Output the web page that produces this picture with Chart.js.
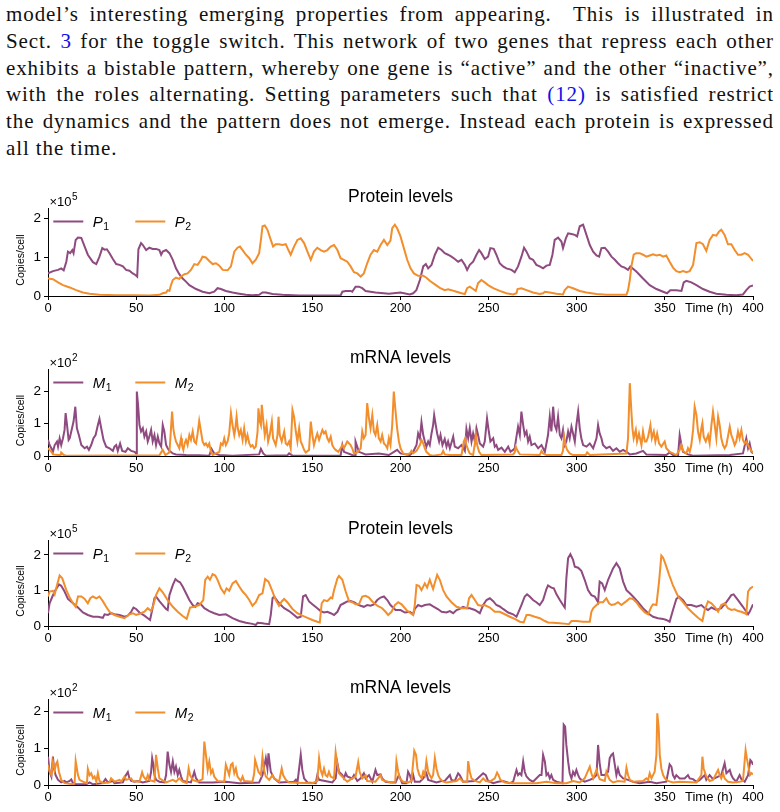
<!DOCTYPE html>
<html>
<head>
<meta charset="utf-8">
<script src="https://cdn.jsdelivr.net/npm/chart.js@4.4.1/dist/chart.umd.min.js"></script>
<style>
  html, body { margin: 0; padding: 0; background: #fff; }
  body { width: 780px; height: 812px; position: relative; overflow: hidden; }
  #para { position: absolute; left: 6px; top: 1px; width: 768px; font-family: "Liberation Serif", "DejaVu Serif", serif; font-size: 21px; letter-spacing: 0.9px; line-height: 26.8px; color: #111; }
  #para div { text-align: justify; text-align-last: justify; white-space: nowrap; }
  #para div.last { text-align-last: left; }
  #para .ref { color: #1010e8; }
  .panel { position: absolute; left: 0; }
</style>
</head>
<body>
<div id="para">
  <div>model’s interesting emerging properties from appearing.&nbsp; This is illustrated in</div>
  <div>Sect. <span class="ref">3</span> for the toggle switch. This network of two genes that repress each other</div>
  <div>exhibits a bistable pattern, whereby one gene is “active” and the other “inactive”,</div>
  <div>with the roles alternating. Setting parameters such that <span class="ref">(12)</span> is satisfied restrict</div>
  <div>the dynamics and the pattern does not emerge. Instead each protein is expressed</div>
  <div class="last">all the time.</div>
</div>
<div id="panels"></div>
<script>
// ---- DATA (time in h, values in units of the axis multiplier) ----
const xTickValues = [0, 50, 100, 150, 200, 250, 300, 350, 400];
const yTickValues = [0, 1, 2];
const timeLabel = "Time (h)";

// Panel 1: protein levels (x10^5), bistable run
const protA_P1 = [[0,0.58],[2.8,0.64],[5.7,0.67],[7.5,0.71],[8.9,0.66],[10.4,0.88],[11.3,1.14],[12.6,1.10],[13.8,1.18],[14.5,1.10],[15.7,1.44],[17.0,1.50],[18.9,1.49],[20.8,1.27],[22.6,1.06],[25.5,0.87],[27.4,0.82],[29.2,1.01],[30.8,1.23],[32.1,1.19],[33.4,1.20],[34.9,1.10],[36.8,0.95],[38.7,0.82],[40.6,0.80],[42.5,0.76],[44.3,0.67],[46.2,0.65],[48.1,0.58],[49.6,0.54],[50.6,0.50],[51.3,1.20],[52.8,1.36],[53.8,1.31],[55.7,1.18],[57.5,1.24],[59.4,1.21],[61.3,1.21],[63.2,1.18],[64.2,1.06],[65.1,1.14],[67.0,1.18],[68.9,1.10],[70.8,0.93],[72.6,0.71],[74.5,0.56],[76.4,0.45],[78.3,0.37],[80.2,0.28],[84.0,0.18],[87.7,0.11],[91.5,0.07],[94.3,0.11],[96.2,0.20],[98.1,0.18],[100.9,0.13],[104.7,0.09],[108.5,0.06],[112.3,0.03],[116.0,0.02],[119.8,0.03],[121.7,0.09],[123.6,0.09],[127.4,0.05],[133.0,0.03],[142.5,0.01],[151.9,0.01],[161.3,0.01],[166.0,0.01],[167.0,0.11],[168.9,0.13],[171.7,0.13],[172.6,0.11],[174.5,0.24],[176.4,0.24],[178.3,0.20],[180.2,0.13],[185.8,0.09],[193.4,0.06],[200,0.09],[205.3,0.04],[207.2,0.07],[209,0.15],[211,0.41],[212.9,0.76],[214.4,0.82],[215.7,0.71],[217.6,0.80],[219.5,1.06],[221.4,1.24],[223.3,1.18],[225.1,1.10],[227,1.06],[228.9,1.01],[230.8,0.95],[232.7,0.88],[234.6,0.93],[236.5,0.80],[237.8,0.67],[239.3,0.80],[241.2,0.88],[243.1,1.06],[244.6,1.18],[245.9,1.10],[247.8,0.95],[249.7,1.01],[251,1.23],[252.9,1.21],[254.4,1.06],[256.3,0.84],[258.2,0.76],[260.1,0.71],[263,0.67],[264.8,0.61],[266.7,0.76],[268.6,1.01],[270.1,1.24],[271.5,1.14],[273.3,0.97],[275.2,0.93],[277.1,0.80],[279,0.76],[280.9,0.71],[282.8,0.78],[284.7,0.80],[286.2,1.06],[287.5,1.44],[289.4,1.50],[291.3,1.40],[292.2,1.23],[293.8,1.48],[295.1,1.61],[297,1.59],[298.9,1.57],[300.2,1.53],[301.7,1.79],[303.6,1.83],[305.5,1.57],[307.4,1.31],[309.3,1.14],[311.2,1.04],[312.7,1.01],[314,1.23],[315.9,1.24],[317.8,1.14],[319.7,1.01],[321.6,0.93],[323.4,0.84],[325.3,0.76],[327.2,0.73],[329.1,0.67],[330.4,0.76],[333.8,0.63],[337.6,0.45],[341.4,0.28],[345.2,0.18],[349,0.11],[351.2,0.07],[353.1,0.15],[356.5,0.15],[359.4,0.13],[360.7,0.35],[362.2,0.39],[365,0.35],[367.9,0.28],[371.6,0.18],[375.4,0.11],[379.2,0.06],[384.9,0.03],[390.5,0.02],[394.3,0.04],[396.2,0.15],[398.1,0.24],[400,0.27]];
const protA_P2 = [[0,0.45],[2.8,0.43],[5.7,0.35],[8.5,0.28],[12.3,0.22],[16.0,0.15],[19.8,0.09],[23.6,0.06],[29.2,0.03],[38.7,0.02],[48.1,0.02],[57.5,0.01],[63.2,0.03],[65.1,0.07],[67.0,0.09],[67.9,0.15],[68.9,0.13],[69.8,0.28],[70.8,0.41],[72.6,0.47],[74.5,0.44],[75.5,0.50],[77.4,0.56],[79.2,0.58],[81.1,0.67],[83.0,0.82],[84.9,0.80],[86.8,0.93],[87.7,1.01],[89.6,0.99],[91.5,0.90],[93.4,0.82],[95.3,0.84],[97.2,0.78],[99.1,0.67],[101.9,0.66],[103.8,0.76],[105.7,1.14],[107.5,1.24],[108.9,1.27],[110.4,1.18],[112.3,1.06],[114.2,0.97],[116.0,0.84],[117.9,0.93],[119.8,1.10],[120.8,1.44],[121.7,1.79],[123.0,1.81],[124.5,1.70],[126.4,1.44],[127.7,1.27],[129.2,1.33],[131.1,1.33],[133.0,1.31],[134.9,1.33],[136.4,1.18],[137.7,1.06],[139.6,1.27],[141.5,1.44],[143.4,1.48],[145.3,1.36],[147.2,1.14],[149.1,0.93],[150.9,1.14],[152.8,1.24],[154.7,1.18],[156.6,1.14],[158.5,1.18],[160.4,1.27],[162.3,1.31],[164.2,1.18],[166.0,0.97],[167.9,0.93],[169.8,0.88],[171.7,0.76],[173.6,0.61],[175.5,0.58],[177.4,0.50],[179.2,0.58],[181.1,0.84],[183.0,1.06],[184.9,1.18],[186.8,1.14],[188.7,1.31],[190.6,1.44],[192.5,1.31],[194.3,1.42],[195.3,1.74],[196.8,1.83],[198.1,1.74],[200,1.53],[201.9,1.23],[203.8,0.93],[205.7,0.71],[207.6,0.58],[210,0.52],[212.9,0.52],[214.7,0.47],[216.6,0.39],[219.5,0.30],[222.3,0.21],[225.1,0.15],[227,0.17],[228.9,0.15],[231.8,0.11],[234.6,0.07],[236.5,0.05],[237.8,0.20],[239.3,0.24],[241.2,0.18],[242.7,0.13],[244,0.33],[245.9,0.41],[247.8,0.35],[249.7,0.28],[252.6,0.20],[256.3,0.13],[260.1,0.07],[263.9,0.04],[265.8,0.07],[266.4,0.18],[268.6,0.20],[271.5,0.15],[275.2,0.09],[279,0.05],[280.9,0.07],[281.9,0.11],[284.7,0.09],[288.5,0.06],[292.2,0.04],[293.2,0.15],[295.1,0.24],[297.9,0.20],[301.7,0.13],[305.5,0.09],[311.2,0.05],[316.8,0.03],[322.5,0.03],[328.2,0.03],[329.1,0.15],[330.1,0.41],[331,0.76],[332.3,1.06],[333.8,1.10],[335.7,1.10],[337.6,1.06],[339.5,1.01],[341.4,1.04],[343.3,1.07],[345.2,1.04],[347.1,1.06],[349,1.01],[350.8,1.04],[352.7,0.88],[354.6,0.73],[356.5,0.64],[358.4,0.61],[360.3,0.64],[362.2,0.61],[364.1,0.64],[366,0.80],[367.9,1.36],[369.8,1.38],[371.6,1.33],[373.5,1.16],[375.4,1.44],[377.3,1.57],[379.2,1.55],[380.7,1.65],[382,1.70],[383.9,1.57],[385.8,1.33],[387.7,1.33],[389.6,1.18],[391.5,1.06],[393.4,1.06],[395.3,1.10],[397.2,1.06],[399.1,0.95],[400,0.90]];

// Panel 2: mRNA levels (x10^2), bistable run
const mrnaA_M1 = [[0,0.50],[0.9,0.34],[1.9,0.24],[2.8,0.13],[3.8,0.34],[5.1,0.45],[5.7,0.29],[6.6,0.55],[7.5,0.34],[8.5,0.55],[9.4,0.81],[10.0,1.33],[10.8,0.96],[11.7,0.50],[12.3,0.55],[13.2,0.76],[14.5,1.07],[15.5,1.53],[16.4,0.86],[17.5,0.65],[18.9,0.34],[20.8,0.24],[22.1,0.29],[23.2,0.19],[24.5,0.34],[25.8,0.55],[27.0,0.65],[28.3,0.96],[29.2,1.15],[30.2,0.86],[31.5,0.50],[33.0,0.29],[34.9,0.24],[36.8,0.16],[37.7,0.29],[38.7,0.34],[39.6,0.16],[40.9,0.39],[42.1,0.16],[44.0,0.13],[45.3,0.24],[47.2,0.16],[49.1,0.13],[50.0,0.08],[50.4,2.0],[51.1,1.59],[51.9,0.96],[52.8,0.76],[53.8,0.86],[54.7,0.60],[55.7,0.76],[56.6,0.45],[57.5,0.60],[58.5,0.81],[59.4,0.45],[60.4,0.65],[61.3,0.34],[62.3,0.60],[63.2,0.39],[64.2,0.29],[65.1,0.96],[66.0,0.76],[67.0,0.34],[67.9,0.24],[68.9,0.16],[70.8,0.08],[72.6,0.05],[78.3,0.03],[85.8,0.02],[91.5,0.01],[92.8,0.22],[94.3,0.08],[97.2,0.03],[104.7,0.01],[119.8,0.05],[120.8,0.22],[122.1,0.08],[123.6,0.01],[135.8,0.02],[136.8,0.08],[138.7,0.01],[166.0,0.01],[167.0,0.34],[167.9,0.13],[172.6,0.03],[174.2,0.01],[174.5,0.45],[176.4,0.13],[180.2,0.05],[187.7,0.08],[193.4,0.03],[198.1,0.19],[200,0.08],[205.3,0.03],[207.2,0.13],[209.1,0.34],[210,0.70],[211,0.55],[211.9,1.05],[212.9,0.65],[213.8,0.45],[214.7,0.29],[215.7,0.45],[216.6,0.34],[217.6,0.70],[218.5,0.96],[219.1,1.27],[220,0.96],[220.8,0.70],[221.9,0.45],[222.7,0.65],[223.8,0.34],[225.1,0.53],[226.1,0.29],[227,0.45],[228,0.24],[229.9,0.60],[230.8,0.29],[232.7,0.24],[234.6,0.34],[236.5,0.16],[237.4,0.84],[238.4,0.55],[239.3,0.86],[240.3,0.45],[241.2,0.70],[242.2,0.45],[243.1,0.86],[244,0.65],[245,0.39],[246.9,0.29],[247.8,0.45],[249.1,1.17],[250.1,0.76],[251,0.45],[252.6,0.55],[253.5,0.29],[254.4,0.34],[255.4,0.19],[257.3,0.26],[259.2,0.13],[261.1,0.29],[262.4,0.13],[263.9,0.19],[264.8,0.24],[265.8,0.60],[266.7,0.91],[267.7,0.65],[268.6,1.38],[269.6,0.96],[270.5,0.65],[271.5,0.76],[272.4,0.45],[273.3,0.60],[274.3,0.34],[276.2,0.39],[278.1,0.24],[280,0.34],[281.9,0.13],[283.7,0.65],[284.7,1.22],[285.6,0.76],[286.6,1.53],[287.5,0.96],[288.5,0.81],[289.4,1.22],[290.4,0.65],[291.3,0.55],[292.2,0.81],[293.2,0.34],[294.1,0.45],[295.1,0.76],[296,0.55],[297,0.91],[297.9,0.70],[298.9,0.45],[299.8,0.96],[300.8,1.38],[301.7,0.86],[302.6,0.55],[303.6,0.34],[305.5,0.29],[307.4,0.39],[309.3,0.24],[311.2,0.55],[312.1,0.96],[313,0.70],[314,0.55],[314.9,0.34],[316.8,0.24],[318.7,0.29],[320.6,0.16],[322.5,0.24],[324.4,0.13],[326.3,0.19],[328.2,0.13],[330.1,0.05],[333.8,0.08],[337.6,0.16],[339.5,0.05],[350.8,0.03],[352.7,0.11],[354.6,0.03],[357.5,0.03],[358.4,0.65],[359.4,0.34],[360.3,0.13],[363.1,0.05],[366,0.01],[386.8,0.03],[394.3,0.08],[396.2,0.55],[397.2,0.24],[398.1,0.39],[399.1,0.13],[400,0.08]];
const mrnaA_M2 = [[0,0.24],[0.9,0.19],[1.9,0.13],[2.8,0.05],[5.7,0.03],[7.2,0.03],[7.5,0.11],[8.9,0.03],[10.4,0.01],[63.2,0.02],[65.1,0.19],[66.6,0.03],[68.9,0.11],[69.8,0.86],[70.4,1.38],[71.1,0.86],[71.7,0.65],[72.6,0.45],[73.6,0.34],[74.5,0.24],[75.5,0.55],[76,0.34],[76.8,0.19],[77.5,0.39],[78.3,0.50],[79.2,0.34],[80.2,0.65],[81.1,0.50],[82.1,0.76],[83,0.45],[84,0.39],[84.9,0.70],[85.8,1.09],[86.8,0.76],[87.7,0.45],[88.7,0.34],[89.6,0.39],[90.6,0.29],[91.5,0.39],[92.5,0.13],[93.4,0.03],[95.3,0.08],[97.2,0.13],[98.1,0.39],[99.1,0.34],[100,0.55],[100.9,0.34],[101.9,0.45],[102.8,0.70],[103.8,1.33],[104.7,0.96],[105.7,0.65],[106.2,0.81],[107,1.22],[107.7,0.86],[108.5,0.65],[109.4,0.81],[110.4,0.50],[111.3,0.86],[112.3,0.45],[113.2,0.65],[114.2,0.39],[115.1,0.29],[116,0.34],[117,0.24],[117.9,0.29],[118.9,0.76],[119.4,1.48],[120.2,1.07],[120.8,0.96],[121.3,1.59],[122.1,1.12],[123,0.65],[124,0.96],[124.9,0.45],[125.8,0.65],[127,1.07],[127.7,0.55],[129.2,0.34],[130.2,0.65],[130.8,1.22],[131.5,0.65],[132.6,0.45],[134,0.76],[134.9,0.39],[135.8,0.34],[136.8,0.45],[137.7,0.24],[138.7,1.43],[139.6,1.22],[140.6,0.76],[141.5,0.45],[142.5,0.86],[143.4,0.45],[144.3,0.34],[145.3,0.19],[146.2,0.11],[148.1,0.19],[149.1,1.07],[150,0.65],[150.9,0.34],[151.9,0.55],[152.8,0.70],[153.8,0.50],[154.7,0.65],[155.7,0.81],[156.6,0.70],[157.5,0.76],[158.5,0.55],[159.4,0.45],[160.4,0.60],[161.3,0.34],[162.3,0.24],[163.2,0.19],[164.7,0.13],[166,0.24],[167,0.34],[167.9,0.24],[169.8,0.45],[171.7,0.34],[172.6,0.24],[173.6,0.08],[175.5,0.11],[177.4,0.24],[178.3,0.76],[179.2,0.55],[180.2,0.65],[181.1,1.64],[182.1,1.17],[183,0.86],[184,1.27],[184.9,0.76],[185.8,0.65],[186.8,0.96],[187.7,0.55],[188.7,0.45],[189.6,0.65],[190.6,0.39],[191.5,0.34],[192.5,0.24],[193.4,0.55],[194.3,0.34],[195.3,0.96],[196.2,2.0],[197.2,1.38],[198.1,0.86],[199.1,0.45],[200,0.24],[201.5,0.08],[203.4,0.05],[205.3,0.08],[206.2,0.16],[207.2,0.08],[209.1,0.16],[211,0.34],[211.9,0.50],[212.9,0.39],[213.8,0.24],[214.7,0.13],[216.6,0.03],[218.5,0.01],[223.3,0.05],[224.2,0.16],[225.1,0.05],[228,0.03],[234.6,0.03],[235.9,0.45],[236.7,0.55],[237.4,0.34],[238.4,0.19],[239.3,0.08],[241.2,0.03],[242.2,0.39],[242.7,0.67],[243.5,0.34],[244.6,0.13],[245.9,0.03],[263.9,0.05],[264.8,0.11],[265.4,0.29],[266.4,0.16],[267.7,0.05],[279,0.03],[280,0.16],[280.9,0.08],[282.8,0.03],[291.3,0.03],[292.2,0.16],[292.8,0.60],[293.6,0.34],[294.5,0.19],[296,0.08],[297.9,0.03],[305.1,0.03],[305.9,0.11],[307.4,0.03],[328.2,0.08],[329.1,0.55],[330.1,2.26],[331,1.38],[331.6,0.86],[332.3,0.55],[333.5,0.81],[334.2,0.45],[335.3,0.70],[336.7,0.34],[337.6,0.76],[338.6,0.45],[339.5,0.45],[340.5,0.60],[341.8,0.96],[342.6,0.55],[343.7,0.76],[344.6,0.45],[345.6,0.70],[346.7,0.39],[348,0.29],[349.9,0.45],[350.8,0.24],[352.7,0.13],[354.6,0.08],[356.5,0.03],[358.4,0.19],[359.4,0.34],[360.3,0.16],[362.2,0.08],[363.1,0.24],[364.1,0.13],[365,0.34],[366,0.81],[366.9,1.53],[367.9,1.27],[368.8,0.76],[369.8,0.50],[370.7,0.86],[371.3,1.02],[372,0.60],[373.2,0.45],[374.5,0.65],[375.4,0.39],[376.4,0.96],[377.3,1.38],[378.3,0.96],[379.2,0.55],[380.2,1.22],[381.1,0.96],[382,0.55],[383,0.34],[383.9,0.24],[384.9,0.34],[386.8,0.91],[387.7,0.65],[388.7,0.50],[389.6,0.34],[390.5,0.45],[391.5,0.76],[392.4,0.55],[393.4,0.81],[394.3,0.50],[395.3,0.39],[396.2,0.45],[397.2,0.34],[398.1,0.24],[399.1,0.16],[400,0.11]];

// Panel 3: protein levels (x10^5), restricted run
const protB_P1 = [[0,0.36],[0.9,0.64],[2.5,0.83],[3.8,0.97],[5.1,1.08],[6.2,1.17],[7.5,1.13],[9.4,0.97],[11.3,0.76],[14.2,0.64],[17.0,0.52],[19.8,0.38],[22.6,0.31],[25.5,0.26],[28.3,0.26],[31.1,0.23],[32.1,0.33],[34.0,0.31],[35.8,0.36],[37.7,0.33],[40.6,0.31],[43.4,0.26],[45.3,0.29],[47.2,0.40],[48.5,0.52],[50.0,0.48],[51.9,0.38],[54.7,0.29],[56.6,0.22],[57.9,0.17],[59.1,0.45],[60.4,0.78],[61.3,0.83],[63.2,0.70],[65.1,0.59],[67.0,0.48],[67.9,0.45],[68.9,0.87],[70.8,1.15],[72.3,1.32],[73.6,1.26],[74.9,1.23],[76.4,1.11],[78.3,0.92],[80.2,0.73],[82.1,0.59],[83.6,0.54],[84.9,0.64],[86.8,0.61],[88.7,0.50],[91.5,0.42],[94.3,0.36],[97.2,0.31],[100.9,0.33],[104.7,0.22],[108.5,0.14],[112.3,0.09],[116.0,0.06],[117.9,0.03],[118.9,0.09],[121.7,0.08],[123.6,0.06],[125.5,0.05],[126.4,0.31],[127.4,0.78],[128.3,0.83],[130.2,0.70],[132.1,0.59],[134.0,0.50],[136.8,0.42],[139.6,0.31],[141.5,0.23],[143.4,0.26],[144.7,0.83],[146.2,0.87],[148.1,0.69],[150.0,0.61],[152.8,0.50],[154.7,0.42],[156.6,0.38],[158.5,0.40],[160.4,0.36],[162.3,0.31],[164.2,0.40],[166.0,0.59],[167.9,0.64],[169.8,0.69],[171.7,0.70],[173.6,0.67],[175.5,0.61],[177.4,0.57],[179.2,0.54],[181.1,0.59],[183.0,0.57],[184.9,0.61],[186.8,0.73],[188.7,0.80],[190.6,0.83],[192.5,0.73],[194.3,0.59],[197.2,0.45],[200,0.45],[202.5,0.38],[205.3,0.40],[207.2,0.33],[208.1,0.48],[210,0.59],[211.9,0.55],[213.8,0.59],[216.6,0.61],[218.5,0.55],[221.4,0.47],[223.3,0.40],[226.1,0.38],[228,0.42],[229.9,0.36],[231.8,0.45],[233.6,0.48],[235.5,0.54],[237.4,0.50],[239.3,0.50],[242.2,0.45],[245,0.36],[246.9,0.59],[248.8,0.73],[250.7,0.78],[252.6,0.70],[254.4,0.59],[256.3,0.55],[258.2,0.48],[261.1,0.38],[263.9,0.33],[265.8,0.26],[266.7,0.36],[268.6,0.59],[270.5,0.83],[271.8,0.89],[273.3,0.83],[275.2,0.73],[277.1,0.67],[279,0.59],[280.9,0.73],[282.8,1.04],[283.7,1.14],[285.6,1.08],[287,1.06],[288.5,0.89],[290.4,0.73],[292.2,0.59],[293.2,0.52],[294.1,1.34],[295.1,1.91],[296.4,2.02],[297.9,1.86],[298.9,1.67],[300.8,1.64],[302.6,1.55],[304.5,1.30],[306.4,1.01],[308.3,0.87],[310.2,0.83],[312.1,0.67],[313,1.25],[314.4,1.20],[315.9,1.01],[317.8,1.30],[320.6,1.62],[322.5,1.77],[324.4,1.62],[326.3,1.25],[328.2,1.01],[330.1,0.92],[331.9,0.83],[334.8,0.67],[337.6,0.50],[340.5,0.36],[343.3,0.26],[346.1,0.22],[349,0.20],[350.8,0.17],[352.7,0.12],[354.6,0.45],[356.5,0.76],[358,0.83],[360.3,0.73],[362.2,0.59],[365,0.59],[367.9,0.54],[370.7,0.59],[372.6,0.50],[374.5,0.45],[376.4,0.52],[379.2,0.45],[382,0.50],[384.9,0.67],[387.7,0.87],[389,0.89],[391.5,0.73],[394.3,0.54],[397.2,0.33],[398.1,0.40],[400,0.61]];
const protB_P2 = [[0,0.83],[0.9,0.97],[2.8,0.99],[3.8,0.89],[5.1,1.15],[6.6,1.42],[8.1,1.34],[10.4,1.01],[12.3,0.80],[14.2,0.64],[15.7,0.54],[17.0,0.83],[18.9,0.83],[20.8,0.76],[22.6,0.64],[24.0,0.78],[25.5,0.83],[27.4,0.78],[29.2,0.83],[31.1,0.70],[33.0,0.54],[34.9,0.40],[37.7,0.31],[40.6,0.26],[43.4,0.22],[46.2,0.33],[48.1,0.36],[50.0,0.31],[52.8,0.36],[54.7,0.40],[56.6,0.50],[58.5,0.42],[59.8,0.59],[61.3,0.87],[63.2,1.06],[65.1,0.95],[67.9,0.73],[70.8,0.54],[73.6,0.40],[76.4,0.28],[78.7,0.20],[80.6,0.52],[83.0,0.54],[85.8,0.59],[88.1,0.73],[89.2,1.30],[90.6,1.39],[91.9,1.30],[93.4,1.46],[94.9,1.42],[96.2,1.30],[98.1,1.06],[100,0.92],[101.3,1.06],[102.8,0.99],[104.7,1.20],[106.6,1.27],[108.5,1.11],[110.4,0.97],[112.3,0.87],[114.2,0.73],[116,0.57],[117.9,0.67],[119.8,0.87],[121.7,0.92],[123.2,1.32],[125.1,1.25],[127.4,0.97],[129.2,0.73],[131.1,0.57],[132.6,0.69],[134,0.76],[135.8,0.67],[138.7,0.48],[141.5,0.36],[144.3,0.29],[147.2,0.23],[150,0.17],[152.8,0.12],[154.2,0.10],[155.3,0.64],[156.6,0.73],[158.5,0.70],[160.4,0.80],[161.3,0.78],[162.3,1.01],[164.2,1.34],[165.1,1.41],[167,1.30],[168.9,0.97],[170.8,0.70],[172.6,0.67],[174.5,0.61],[176.4,0.61],[178.3,0.83],[180.2,0.85],[182.1,0.80],[184,0.69],[186.8,0.57],[189.6,0.50],[191.5,0.40],[193,0.31],[194.9,0.40],[196.8,0.59],[198.7,0.67],[200.6,0.61],[203.4,0.45],[205.7,0.36],[207.2,0.31],[208.1,0.59],[209.1,1.15],[210.5,1.13],[211.9,1.01],[213.8,1.20],[215.1,1.08],[216.6,1.30],[218.5,1.04],[219.5,1.22],[220.8,1.44],[222.3,1.30],[224.2,1.01],[226.1,0.83],[228.9,0.67],[231.8,0.54],[234.6,0.50],[237.8,0.50],[238.9,0.78],[240.3,0.87],[242.2,0.73],[244,0.59],[245.9,0.57],[247.8,0.59],[250.7,0.52],[253.5,0.40],[256.3,0.40],[259.2,0.33],[262,0.26],[264.8,0.20],[267.7,0.12],[269.9,0.10],[271.5,0.31],[273.3,0.31],[276.2,0.26],[279,0.22],[281.9,0.14],[283.7,0.10],[286.6,0.09],[290.4,0.08],[294.1,0.06],[295.5,0.05],[297,0.14],[299.8,0.14],[303.6,0.12],[307.4,0.12],[308.3,0.40],[309.3,0.50],[311.2,0.59],[313,0.67],[314.9,0.67],[316.8,0.78],[318.3,0.64],[319.7,0.59],[321.6,0.61],[323.4,0.67],[325.3,0.59],[328.2,0.70],[330.1,0.78],[331.9,0.76],[333.8,0.67],[335.7,0.54],[338.6,0.38],[340.5,0.33],[342.4,0.55],[343.3,0.61],[345.2,0.59],[346.7,1.25],[348,1.98],[349,1.92],[350.5,1.72],[352.4,1.44],[354.6,1.14],[357.5,0.83],[360.3,0.67],[363.1,0.50],[366,0.36],[368.8,0.23],[371.3,0.14],[372.6,0.45],[374.5,0.69],[376.4,0.64],[378.3,0.54],[380.2,0.40],[382,0.59],[383.9,0.64],[385.8,0.50],[387.7,0.45],[389.6,0.47],[391.5,0.42],[393.4,0.40],[395.3,0.36],[396.2,0.33],[397.2,0.97],[398.5,1.06],[400,1.11]];

// Panel 4: mRNA levels (x10^2), restricted run
const mrnaB_M1 = [[0,0.77],[0.9,0.36],[1.9,0.23],[2.8,0.77],[3.4,0.45],[4.3,0.27],[5.7,0.14],[7.5,0.07],[9.4,0.11],[10.4,0.07],[12.3,0.11],[13.2,0.15],[14.2,0.05],[16,0.02],[21.7,0.02],[23.6,0.07],[25.5,0.02],[31.1,0.05],[32.6,0.16],[34,0.07],[36.8,0.11],[37.7,0.05],[42.5,0.07],[44,0.25],[45.3,0.35],[46.2,0.18],[47.2,0.11],[49.1,0.09],[50.9,0.11],[53.8,0.07],[57.5,0.11],[58.5,0.36],[59.1,0.73],[59.8,0.55],[60.4,0.27],[61.3,0.14],[63.2,0.09],[66,0.07],[67,0.27],[67.9,0.91],[68.9,0.55],[69.8,0.36],[70.8,0.64],[71.7,0.36],[72.6,0.50],[73.6,0.27],[74.5,0.41],[75.5,0.23],[76.4,0.11],[81.1,0.07],[83,0.36],[84,0.18],[85.8,0.07],[93.4,0.07],[100.9,0.09],[108.5,0.05],[119.8,0.07],[121.7,0.27],[123.6,0.73],[124.5,0.45],[125.1,0.86],[126.4,0.36],[128.3,0.18],[131.1,0.07],[139.6,0.09],[140.6,0.14],[141.5,0.05],[143.4,0.82],[144.3,0.41],[145.3,0.18],[147.2,0.07],[151.9,0.05],[152.8,0.27],[153.8,0.14],[161.3,0.07],[163.2,0.18],[164.2,0.59],[165.1,0.36],[167,0.27],[167.9,0.18],[168.9,0.32],[169.8,0.23],[172.6,0.18],[173.6,0.27],[175.5,0.11],[177.4,0.18],[179.2,0.32],[180.2,0.18],[182.1,0.27],[184,0.09],[185.8,0.41],[186.8,0.27],[188.7,0.29],[189.6,0.18],[191.5,0.09],[195.3,0.07],[197.2,0.07],[199.1,0.27],[201,0.05],[203.4,0.05],[204.3,0.36],[205.3,0.27],[206.2,0.11],[207.2,0.27],[208.1,0.09],[211,0.09],[212.9,0.18],[214.7,0.32],[215.7,0.14],[220.4,0.07],[223.3,0.11],[225.1,0.11],[228,0.27],[228.9,0.14],[230.8,0.11],[232.7,0.32],[233.6,0.27],[234.6,0.18],[235.5,0.09],[242.2,0.11],[246.9,0.32],[248.4,0.27],[249.7,0.11],[252.6,0.05],[255.4,0.09],[258.2,0.11],[262,0.05],[263.9,0.09],[265.8,0.41],[266.7,0.27],[267.7,0.32],[268.6,0.27],[269.6,0.64],[270.5,0.36],[271.5,0.23],[273.3,0.14],[275.2,0.09],[279,0.27],[280,0.27],[280.9,0.82],[281.9,0.64],[282.8,0.27],[283.7,0.32],[284.7,0.18],[285.6,0.27],[286.6,0.14],[288.5,0.09],[291.9,0.05],[292.6,1.64],[293.4,1.59],[294.1,1.09],[295.1,0.64],[296,0.32],[297,0.18],[297.9,0.36],[298.9,0.27],[299.8,0.41],[300.8,0.27],[301.7,0.18],[302.6,0.14],[304.5,0.09],[307.4,0.14],[309.3,0.18],[311.2,0.27],[312.1,1.09],[313,0.59],[314,0.27],[315.9,0.27],[317.8,0.36],[318.7,0.73],[319.7,0.82],[320.6,0.86],[321.6,0.55],[322.5,0.27],[323.4,0.45],[324.4,0.27],[326.3,0.18],[329.1,0.14],[331.9,0.09],[335.7,0.05],[341.4,0.09],[345.2,0.05],[350.8,0.09],[352.7,0.56],[353.7,0.50],[354.6,0.27],[355.6,0.18],[356.5,0.27],[358.4,0.18],[361.2,0.18],[363.1,0.27],[364.1,0.18],[366,0.16],[367.9,0.09],[369.8,0.14],[372.6,0.27],[373.5,0.14],[375.4,0.27],[377.3,0.16],[380.2,0.23],[382,0.27],[383.9,0.59],[384.9,0.32],[386.8,0.41],[387.7,0.27],[388.7,0.18],[390.5,0.09],[392.4,0.27],[393.4,0.16],[395.3,0.09],[397.2,0.27],[398.5,0.68],[399.2,0.64],[400,0.55]];
const mrnaB_M2 = [[0,0.55],[0.9,0.36],[1.9,0.27],[2.8,0.64],[3.8,0.41],[4.7,0.59],[5.3,0.64],[6.2,0.36],[7.5,0.14],[9.4,0.05],[14.2,0.02],[15.1,0.05],[15.7,0.65],[17,0.27],[17.9,0.14],[19.8,0.09],[22.1,0.05],[22.6,0.44],[23.6,0.27],[24.5,0.32],[25.5,0.18],[26.4,0.23],[27.4,0.09],[28.3,0.32],[29.2,0.11],[31.1,0.05],[34.9,0.07],[35.8,0.18],[37.7,0.09],[40.6,0.14],[41.5,0.09],[43.4,0.23],[44.3,0.14],[47.2,0.18],[48.1,0.11],[51.9,0.09],[53.4,0.35],[54.2,0.23],[55.7,0.14],[56.6,0.27],[57.5,0.14],[60.4,0.09],[61.3,0.82],[62.3,0.45],[63.2,0.18],[67,0.07],[70.8,0.14],[72.6,0.09],[74.5,0.18],[76.4,0.09],[78.7,0.05],[79.8,0.45],[80.6,0.27],[82.1,0.14],[84.9,0.09],[87.7,0.16],[88.7,1.18],[89.6,0.82],[90.6,0.41],[91.5,0.64],[92.5,0.32],[93.4,0.41],[94.3,0.23],[96.2,0.11],[100,0.09],[100.9,0.55],[101.9,0.41],[102.8,0.27],[103.8,0.55],[104.7,0.59],[105.7,0.32],[106.6,0.45],[107.5,0.23],[109.4,0.11],[110.4,0.23],[111.3,0.11],[116,0.09],[117,0.32],[117.5,0.68],[118.3,0.55],[119.4,0.36],[120.8,0.27],[121.7,0.77],[122.6,0.41],[123.6,0.23],[125.5,0.14],[127.4,0.27],[128.3,0.18],[131.1,0.09],[132.6,0.45],[133.4,0.27],[134.9,0.14],[136.8,0.07],[150,0.05],[152.8,0.11],[153.8,0.73],[154.7,0.41],[155.7,0.27],[156.6,0.45],[157.5,0.27],[158.5,0.23],[159.4,0.36],[160.4,0.23],[162.3,0.18],[163.2,0.89],[164.2,0.55],[165.1,0.32],[166,0.27],[167.9,0.18],[169.8,0.09],[172.6,0.18],[174.5,0.23],[176,0.62],[176.8,0.36],[178.3,0.18],[180.2,0.27],[181.1,0.11],[185.8,0.09],[188.7,0.27],[189.6,0.14],[194.3,0.07],[197,0.09],[197.7,0.65],[198.7,0.36],[199.6,0.18],[201.5,0.09],[204.3,0.07],[206.2,0.11],[207.8,0.93],[208.8,0.82],[209.6,0.45],[210.7,0.27],[212,0.18],[212.9,0.36],[213.8,0.27],[214.7,0.65],[215.7,0.36],[216.6,0.27],[217.6,0.18],[218.5,0.27],[219.5,0.73],[220.4,0.45],[221.4,0.27],[222.3,0.18],[224.2,0.09],[226.1,0.07],[228.9,0.09],[231.8,0.11],[233.6,0.18],[235.5,0.09],[237.8,0.09],[238.4,0.65],[239.3,0.36],[240.3,0.18],[242.2,0.11],[245,0.07],[246.9,0.18],[248.4,0.11],[250.7,0.09],[253.5,0.18],[254.8,0.34],[255.6,0.27],[256.7,0.14],[259.2,0.07],[263.9,0.05],[271.5,0.05],[277.1,0.05],[282.8,0.09],[288.5,0.05],[294.1,0.05],[297.9,0.11],[301.7,0.07],[304.5,0.18],[307.4,0.50],[308.3,0.32],[309.3,0.18],[311.2,0.41],[312.1,0.27],[313,0.16],[315.9,0.11],[316.8,0.36],[317.8,0.23],[318.7,0.14],[320.6,0.07],[323.4,0.11],[327.2,0.09],[328.2,0.47],[329.1,0.27],[330.1,0.14],[331.9,0.09],[337.6,0.11],[339.5,0.18],[340.5,0.14],[341.4,0.32],[342.4,0.18],[344.2,0.36],[345.2,0.82],[345.7,1.95],[346.5,1.55],[347.1,0.82],[348,0.45],[349,0.27],[350,0.18],[351.8,0.11],[354.6,0.07],[358.4,0.09],[367.9,0.07],[370.7,0.27],[371.3,0.77],[372,0.45],[373.5,0.23],[375.4,0.11],[377.3,0.14],[380.2,0.41],[381.1,0.27],[382,0.18],[383,0.32],[383.9,0.18],[385.8,0.09],[388.7,0.07],[392.4,0.09],[394.3,0.11],[395.8,0.95],[396.5,0.73],[397.6,0.45],[398.3,0.27],[399.1,0.32],[400,0.29]];

// ---- STYLE / LAYOUT ----
const PURPLE = '#8f4a80';
const ORANGE = '#f28e2b';
const FONT = '"Liberation Sans", Arial, Helvetica, sans-serif';
const PLOT_LEFT = 48, PLOT_RIGHT = 753, W = 780, X_AXIS_H = 20;

const panels = [
  { canvasTop: 183, plotTop: 208, plotBottom: 296, ymax: 2.26, title: 'Protein levels', sym: 'P', exp: '5', lw: 2.0, series: [protA_P1, protA_P2] },
  { canvasTop: 342, plotTop: 369, plotBottom: 456, ymax: 2.70, title: 'mRNA levels',    sym: 'M', exp: '2', lw: 2.0, series: [mrnaA_M1, mrnaA_M2] },
  { canvasTop: 513, plotTop: 540, plotBottom: 626, ymax: 2.42, title: 'Protein levels', sym: 'P', exp: '5', lw: 2.0, series: [protB_P1, protB_P2] },
  { canvasTop: 672, plotTop: 699, plotBottom: 785, ymax: 2.34, title: 'mRNA levels',    sym: 'M', exp: '2', lw: 2.0, series: [mrnaB_M1, mrnaB_M2] }
];

const decorPlugin = {
  id: 'decor',
  afterDraw(chart, args, opts) {
    const ctx = chart.ctx;
    const a = chart.chartArea;
    ctx.save();
    ctx.fillStyle = '#000';
    // title
    ctx.font = '17.5px ' + FONT;
    ctx.textAlign = 'center';
    ctx.textBaseline = 'middle';
    ctx.fillText(opts.title, (a.left + a.right) / 2, a.top - 11);
    // y label
    ctx.save();
    ctx.translate(21.5, (a.top + a.bottom) / 2 + 8);
    ctx.rotate(-Math.PI / 2);
    ctx.font = '10.5px ' + FONT;
    ctx.fillText('Copies/cell', 0, 0);
    ctx.restore();
    // offset label ×10^n
    ctx.textAlign = 'left';
    ctx.textBaseline = 'alphabetic';
    ctx.font = '13px ' + FONT;
    const base = a.top - 2;
    ctx.fillText('×10', a.left + 1.5, base);
    const w = ctx.measureText('×10').width;
    ctx.font = '10px ' + FONT;
    ctx.fillText(opts.exp, a.left + 1.5 + w + 0.5, base - 6.5);
    // legend
    const ly = a.top + 13.5;
    chart.data.datasets.forEach((ds, i) => {
      const x0 = a.left + 5.3 + i * 82;
      ctx.strokeStyle = ds.borderColor;
      ctx.lineWidth = 2;
      ctx.beginPath();
      ctx.moveTo(x0, ly);
      ctx.lineTo(x0 + 30, ly);
      ctx.stroke();
      ctx.fillStyle = '#000';
      ctx.font = 'italic 15px ' + FONT;
      ctx.textBaseline = 'alphabetic';
      const tx = x0 + 39.5;
      ctx.fillText(opts.sym, tx, ly + 5.5);
      const sw = ctx.measureText(opts.sym).width;
      ctx.font = '10.5px ' + FONT;
      ctx.fillText(String(i + 1), tx + sw + 0.5, ly + 8.5);
    });
    ctx.restore();
  }
};

const host = document.getElementById('panels');
panels.forEach((p) => {
  const H = p.plotBottom - p.canvasTop + X_AXIS_H;
  const div = document.createElement('div');
  div.className = 'panel';
  div.style.top = p.canvasTop + 'px';
  div.style.width = W + 'px';
  div.style.height = H + 'px';
  const cv = document.createElement('canvas');
  cv.width = W; cv.height = H;
  cv.style.width = W + 'px'; cv.style.height = H + 'px';
  div.appendChild(cv);
  host.appendChild(div);

  const xTicksAll = xTickValues.concat([375]).sort((a, b) => a - b);

  new Chart(cv, {
    type: 'line',
    data: {
      datasets: p.series.map((s, i) => ({
        label: p.sym + (i + 1),
        data: s.map(([t, v]) => ({ x: t, y: v })),
        borderColor: i === 0 ? PURPLE : ORANGE,
        borderWidth: p.lw,
        pointRadius: 0,
        tension: 0,
        fill: false,
        order: i === 0 ? 2 : 1
      }))
    },
    options: {
      responsive: false,
      animation: false,
      devicePixelRatio: 1,
      layout: { padding: { top: p.plotTop - p.canvasTop, right: W - PLOT_RIGHT, bottom: 0, left: 0 } },
      plugins: {
        legend: { display: false },
        tooltip: { enabled: false },
        title: { display: false },
        decor: { title: p.title, sym: p.sym, exp: p.exp }
      },
      scales: {
        x: {
          type: 'linear', min: 0, max: 400,
          afterBuildTicks: s => { s.ticks = xTicksAll.map(v => ({ value: v })); },
          afterFit: s => { s.height = X_AXIS_H; },
          ticks: {
            autoSkip: false, maxRotation: 0, padding: 1,
            color: '#000', font: { family: FONT, size: 13 },
            callback: v => (v === 375 ? timeLabel : String(v))
          },
          grid: {
            drawOnChartArea: false, drawTicks: true, tickLength: 4,
            tickColor: c => (c.tick && c.tick.value === 375 ? 'rgba(0,0,0,0)' : '#000'),
            color: '#000'
          },
          border: { display: true, color: '#000', width: 1 }
        },
        y: {
          type: 'linear', min: 0, max: p.ymax,
          afterBuildTicks: s => { s.ticks = yTickValues.map(v => ({ value: v })); },
          afterFit: s => { s.width = PLOT_LEFT; },
          ticks: { color: '#000', padding: 3, font: { family: FONT, size: 13.5 } },
          grid: { drawOnChartArea: false, drawTicks: true, tickLength: 4, color: '#000', tickColor: '#000' },
          border: { display: true, color: '#000', width: 1 }
        }
      }
    },
    plugins: [decorPlugin]
  });
});
</script>
</body>
</html>
